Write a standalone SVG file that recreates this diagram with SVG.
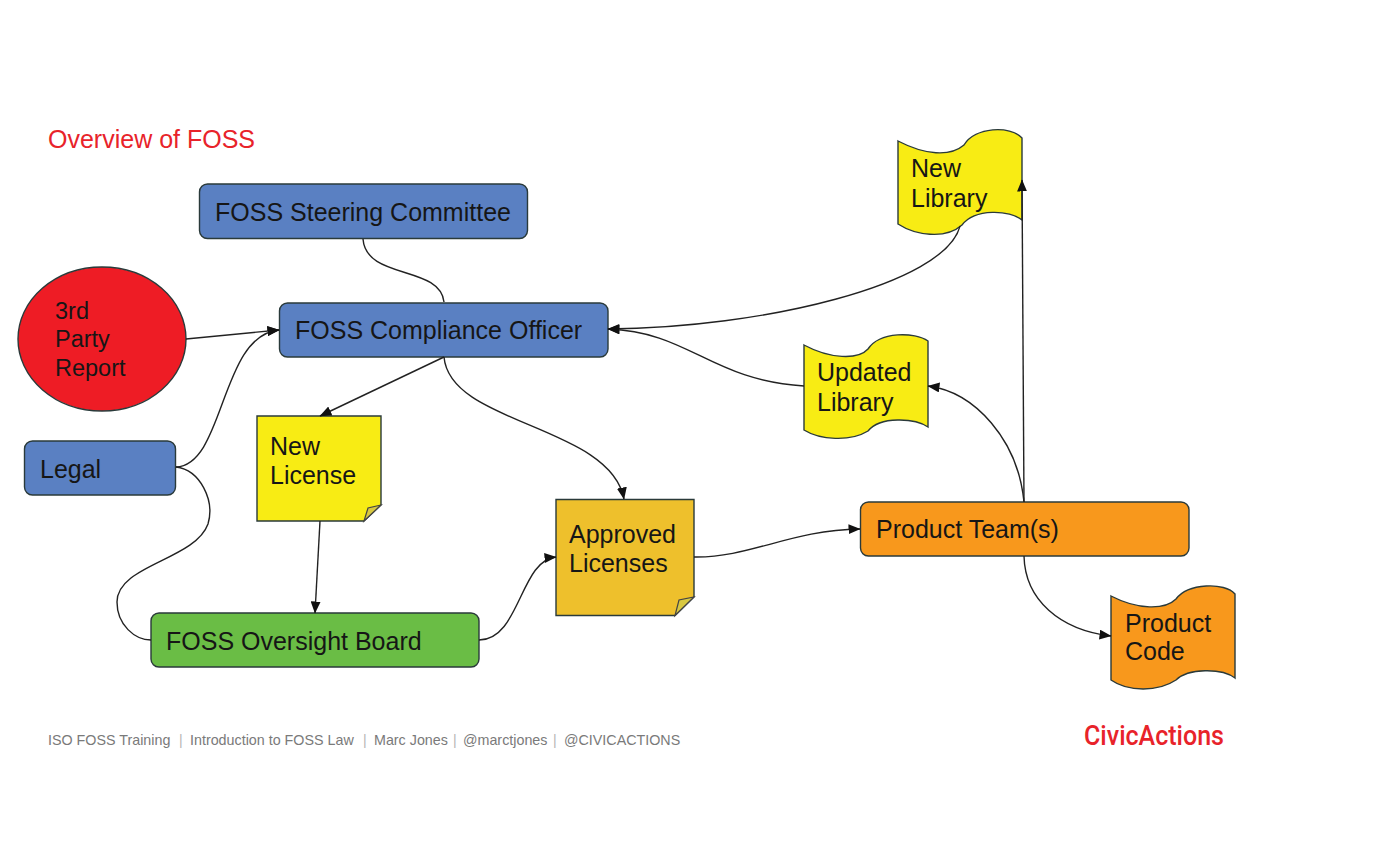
<svg xmlns="http://www.w3.org/2000/svg" width="1400" height="860" viewBox="0 0 1400 860">
<style>
.n{stroke:#2a3a3a;stroke-width:1.4}
.t{font-family:"Liberation Sans",Arial,sans-serif;font-size:25px;fill:#161616}
.s{font-size:23.500px}
.c{fill:none;stroke:#222;stroke-width:1.4}
.blue{fill:#5a80c2}
.y{fill:#f8ec14}
.o{fill:#f8981c}
.fold{fill:#d8c840;stroke:#444;stroke-width:1.2}
.foot{font-family:"Liberation Sans",Arial,sans-serif;font-size:14.300px;fill:#7a7a7a}
.pipe{font-family:"Liberation Sans",Arial,sans-serif;font-size:14px;fill:#b5b5b5}
</style>
<defs>
<marker id="a" viewBox="0 0 12 10" refX="11.5" refY="5" markerWidth="12" markerHeight="10" markerUnits="userSpaceOnUse" orient="auto"><path d="M0 0L12 5L0 10Z" fill="#111"/></marker>
</defs>
<rect width="1400" height="860" fill="#fff"/>
<text x="48" y="148" font-family="Liberation Sans,Arial,sans-serif" font-size="25" fill="#e8232a">Overview of FOSS</text>
<g id="steering"><rect class="n blue" x="199.500" y="184" width="328" height="54.500" rx="8"/><text class="t" x="215" y="221">FOSS Steering Committee</text></g>
<g id="officer"><rect class="n blue" x="279.500" y="303" width="328.500" height="54" rx="8"/><text class="t" x="295" y="339">FOSS Compliance Officer</text></g>
<g id="report"><ellipse class="n" fill="#ee1c25" cx="102" cy="339" rx="84" ry="72"/><text class="t s" x="55" y="319">3rd</text><text class="t s" x="55" y="347">Party</text><text class="t s" x="55" y="376">Report</text></g>
<g id="legal"><rect class="n blue" x="24.500" y="441" width="151" height="54" rx="8"/><text class="t" x="40" y="478">Legal</text></g>
<g id="new-license"><path class="n y" d="M257 416H381V505L364 521H257Z"/><path class="fold" d="M364 521L368 508L381 505Z"/><text class="t" x="270" y="455">New</text><text class="t" x="270" y="484">License</text></g>
<g id="approved"><path class="n" fill="#eec02c" d="M556 499.500H694V597L675 615.500H556Z"/><path class="fold" d="M675 615.500L679 600L694 597Z"/><text class="t" x="569" y="543">Approved</text><text class="t" x="569" y="572">Licenses</text></g>
<g id="board"><rect class="n" fill="#6abd45" x="151" y="613" width="328" height="54" rx="8"/><text class="t" x="166" y="650">FOSS Oversight Board</text></g>
<g id="team"><rect class="n o" x="860.500" y="502" width="328.500" height="54" rx="8"/><text class="t" x="876" y="538">Product Team(s)</text></g>
<g id="new-library"><path class="n y" d="M898 141C925 155 950 157 964 145C975 127 1010 125 1022 138V220C1010 210 975 208 962 225C945 240 915 235 898 224Z"/><text class="t" x="911" y="177">New</text><text class="t" x="911" y="207">Library</text></g>
<g id="updated-library"><path class="n y" d="M804 345C830 359 858 360 868 349C880 331 915 332 928 341V427C915 418 880 416 868 431C850 442 820 440 804 430Z"/><text class="t" x="817" y="381">Updated</text><text class="t" x="817" y="411">Library</text></g>
<g id="product-code"><path class="n o" d="M1111 596C1138 610 1165 610 1176 599C1188 583 1225 582 1235 594V678C1222 668 1188 668 1176 680C1158 692 1128 692 1111 680Z"/><text class="t" x="1125" y="632">Product</text><text class="t" x="1125" y="660">Code</text></g>
<g id="connectors">
<path class="c" d="M363 239C366 280 440 265 444 302"/>
<path class="c" d="M186 339L279 330" marker-end="url(#a)"/>
<path class="c" d="M176 467C225 465 220 335 279 330" marker-end="url(#a)"/>
<path class="c" d="M176 467C200 470 215 500 208 524C195 560 117 565 117 602C117 625 135 640 151 640"/>
<path class="c" d="M444 357L320 416" marker-end="url(#a)"/>
<path class="c" d="M444 357C450 425 610 425 624 499" marker-end="url(#a)"/>
<path class="c" d="M320 521L315 613" marker-end="url(#a)"/>
<path class="c" d="M479 640C520 640 520 560 556 557" marker-end="url(#a)"/>
<path class="c" d="M694 557C750 558 790 530 860 529" marker-end="url(#a)"/>
<path class="c" d="M1024 502L1022 180" marker-end="url(#a)"/>
<path class="c" d="M1024 502C1018 440 975 392 928 386" marker-end="url(#a)"/>
<path class="c" d="M1024 556C1025 600 1060 630 1111 636" marker-end="url(#a)"/>
<path class="c" d="M960 226C945 285 760 328 608 329" marker-end="url(#a)"/>
<path class="c" d="M804 386C710 380 690 332 608 329" marker-end="url(#a)"/>
</g>
<text class="foot" x="48" y="745">ISO FOSS Training</text><text class="pipe" x="179" y="745">|</text>
<text class="foot" x="190" y="745">Introduction to FOSS Law</text><text class="pipe" x="363" y="745">|</text>
<text class="foot" x="374" y="745">Marc Jones</text><text class="pipe" x="453" y="745">|</text>
<text class="foot" x="463" y="745">@marctjones</text><text class="pipe" x="553" y="745">|</text>
<text class="foot" x="564" y="745">@CIVICACTIONS</text>
<text x="1084" y="745" font-family="Roboto,Liberation Sans,sans-serif" font-size="28" font-weight="500" textLength="140" lengthAdjust="spacingAndGlyphs" fill="#e8232a">CivicActions</text>
</svg>
